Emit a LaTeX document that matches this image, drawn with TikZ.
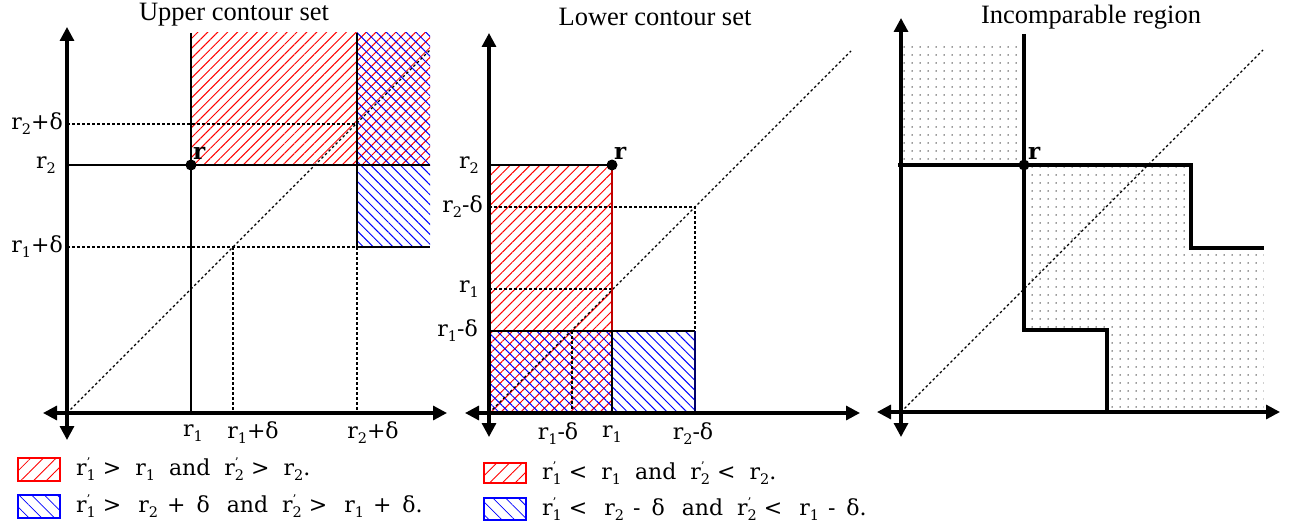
\documentclass[tikz,border=0pt]{standalone}
\usepackage{fontspec}
\usepackage{graphicx}
\setmainfont{DejaVu Serif}
\newfontfamily\titlefont{Liberation Serif}
\usetikzlibrary{arrows.meta,patterns.meta}
\newcommand\sub[1]{\raisebox{-0.45ex}{\fontsize{14.5}{14.5}\selectfont #1}}
\newcommand\rr[1]{r\sub{#1}}
\newcommand\rp[1]{r\rlap{\raisebox{0.8ex}{\fontsize{12}{12}\selectfont '}}\sub{#1}}
\newcommand\pd[1]{\hspace{9pt}#1\hspace{11pt}δ}
\newcommand\gp{\hspace{17pt}}
\begin{document}
\begin{tikzpicture}[x=1pt,y=-1pt,
 ax/.style={line width=3.2pt,{Triangle[length=14pt,width=14pt]}-{Triangle[length=14pt,width=14pt]}},
 solidln/.style={line width=1.6pt},
 thickln/.style={line width=3.2pt},
 dotln/.style={line width=1.3pt,dash pattern=on 2.5pt off 2.5pt},
 redhatch/.style={pattern={Lines[angle=45,distance=7pt,line width=1pt]},pattern color=red},
 bluehatch/.style={pattern={Lines[angle=-45,distance=7pt,line width=1pt]},pattern color=blue},
 redkey/.style={draw=red,line width=1.4pt,pattern={Lines[angle=45,distance=9pt,line width=0.8pt]},pattern color=red},
 bluekey/.style={draw=blue,line width=1.4pt,pattern={Lines[angle=-45,distance=9pt,line width=0.8pt]},pattern color=blue},
 dotfill/.style={pattern={Dots[distance=8pt,radius=0.75pt]},pattern color=black!80},
 lab/.style={font=\fontsize{22}{24}\selectfont,inner sep=0pt},
 ttl/.style={font=\titlefont\fontsize{26.5}{28}\selectfont,inner sep=0pt},
 pt/.style={circle,fill=black,inner sep=0pt,minimum size=11pt},
 rlab/.style={font=\bfseries\fontsize{23}{24}\selectfont,inner sep=0pt,anchor=south west},
]
\useasboundingbox (0,0) rectangle (1297,527);

% ================= Panel 1 =================
\node[ttl] (t1) at (234,15) {Upper contour set};
\fill[redhatch] (191,33) rectangle (430,165);
\fill[bluehatch] (357,33) rectangle (430,247);
\draw[dotln] (67,413) -- (430,50);
\draw[dotln] (67,124) -- (357,124);
\draw[dotln] (67,247) -- (357,247);
\draw[dotln] (233,247) -- (233,413);
\draw[dotln] (357,247) -- (357,413);
\draw[solidln] (191,33) -- (191,413);
\draw[solidln] (67,165) -- (430,165);
\draw[solidln] (357,33) -- (357,247) -- (430,247);
\draw[ax] (67,440) -- (67,27);
\draw[ax] (43,413) -- (447,413);
\node[pt] (p1) at (191,165) {};
\node[rlab] (r1) at (193,160) {r};
\node[lab,anchor=east] (a1) at (63,124) {\rr{2}+δ};
\node[lab,anchor=east] (a2) at (56,165) {\rr{2}};
\node[lab,anchor=east] (a3) at (63,247) {\rr{1}+δ};
\node[lab] (b1) at (193,433) {\rr{1}};
\node[lab] (b2) at (253,433) {\rr{1}+δ};
\node[lab] (b3) at (373,433) {\rr{2}+δ};
\draw[redkey] (18,458) rectangle (60,481);
\draw[bluekey] (18,495) rectangle (60,518);
\node[lab,anchor=west] (l1) at (76,469) {\rp{1} >\ \ \rr{1}\ \ and\ \ \rp{2} >\ \ \rr{2}.};
\node[lab,anchor=west] (l2) at (76,506) {\rp{1} >\gp\rr{2}\pd{+}\gp and\ \ \rp{2} >\gp\rr{1}\pd{+}.};

% ================= Panel 2 =================
\node[ttl] (t2) at (655,17) {Lower contour set};
\fill[redhatch] (489,165) rectangle (612,413);
\fill[bluehatch] (489,331) rectangle (695,413);
\draw[dotln] (489,413) -- (851,51);
\draw[dotln] (489,207) -- (695,207) -- (695,331);
\draw[dotln] (489,289) -- (612,289);
\draw[dotln] (572,331) -- (572,413);
\draw[solidln] (489,165) -- (612,165);
\draw[solidln,red!75!black] (612,165) -- (612,331);
\draw[solidln] (612,331) -- (612,413);
\draw[solidln] (489,331) -- (695,331);
\draw[solidln,blue!40!black] (695,331) -- (695,413);
\draw[ax] (489,437) -- (489,33);
\draw[ax] (465,413) -- (860,413);
\node[pt] (p2) at (612,165) {};
\node[rlab] (r2) at (614,160) {r};
\node[lab,anchor=east] (c1) at (479,165) {\rr{2}};
\node[lab,anchor=east] (c2) at (483,207) {\rr{2}-δ};
\node[lab,anchor=east] (c3) at (479,289) {\rr{1}};
\node[lab,anchor=east] (c4) at (478,331) {\rr{1}-δ};
\node[lab] (d1) at (558,434) {\rr{1}-δ};
\node[lab] (d2) at (612,434) {\rr{1}};
\node[lab] (d3) at (693,434) {\rr{2}-δ};
\draw[redkey] (484,463) rectangle (526,483);
\draw[bluekey] (484,498) rectangle (526,520);
\node[lab,anchor=west] (l3) at (542,473) {\rp{1} <\ \ \rr{1}\ \ and\ \ \rp{2} <\ \ \rr{2}.};
\node[lab,anchor=west] (l4) at (542,509) {\rp{1} <\gp\rr{2}\pd{-}\gp and\ \ \rp{2} <\gp\rr{1}\pd{-}.};

% ================= Panel 3 =================
\node[ttl] (t3) at (1091,17) {Incomparable region};
\fill[dotfill] (901,42) rectangle (1024,165);
\fill[dotfill] (1024,165) -- (1191,165) -- (1191,248) -- (1264,248) -- (1264,412)
  -- (1107,412) -- (1107,330) -- (1024,330) -- cycle;
\draw[dotln] (901,412) -- (1263,50);
\draw[thickln] (1024,34) -- (1024,330) -- (1107,330) -- (1107,412);
\draw[thickln] (898,165) -- (1191,165) -- (1191,248) -- (1264,248);
\draw[ax] (901,437) -- (901,18);
\draw[ax] (877,412) -- (1280,412);
\node[pt] (p3) at (1024,165) {};
\node[rlab] (r3) at (1028,160) {r};
\end{tikzpicture}
\end{document}
